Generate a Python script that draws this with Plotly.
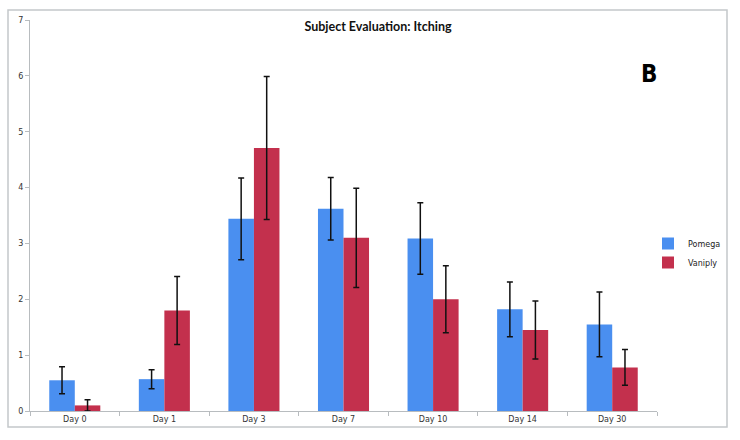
import plotly.graph_objects as go

categories = ["Day 0", "Day 1", "Day 3", "Day 7", "Day 10", "Day 14", "Day 30"]
pomega = [0.55, 0.57, 3.44, 3.62, 3.09, 1.82, 1.55]
pomega_err = [0.24, 0.17, 0.73, 0.56, 0.64, 0.49, 0.58]
vaniply = [0.10, 1.80, 4.71, 3.10, 2.00, 1.45, 0.78]
vaniply_err = [0.10, 0.61, 1.28, 0.89, 0.60, 0.52, 0.32]
y_ticks = [0, 1, 2, 3, 4, 5, 6, 7]

BLUE = "#4a8ff0"
RED = "#c3304d"
GRID = "#b8bcbf"

ML, MR, MT, MB = 30, 83, 20, 29
PW = 740 - ML - MR
PH = 440 - MT - MB

fig = go.Figure()
fig.add_trace(go.Bar(
    x=categories, y=pomega, name="Pomega", marker=dict(color=BLUE, line=dict(width=0)),
    error_y=dict(type="data", array=pomega_err, visible=True, color="#111111", thickness=1.5, width=3),
))
fig.add_trace(go.Bar(
    x=categories, y=vaniply, name="Vaniply", marker=dict(color=RED, line=dict(width=0)),
    error_y=dict(type="data", array=vaniply_err, visible=True, color="#111111", thickness=1.5, width=3),
))

fig.update_layout(
    width=740, height=440,
    margin=dict(l=ML, r=MR, t=MT, b=MB),
    paper_bgcolor="white", plot_bgcolor="white",
    barmode="group", bargap=0.43, bargroupgap=0,
    font=dict(family="DejaVu Sans", size=8, color="#333333"),
    title=dict(text="<b>Subject Evaluation: Itching</b>", x=378 / 740, xanchor="center",
               y=1 - 27 / 440, yanchor="middle",
               font=dict(family="Lato", size=12.5, color="#111111")),
    showlegend=True,
    legend=dict(x=(648 - ML) / PW, y=(411 - 229) / PH, xanchor="left", yanchor="top",
                font=dict(family="DejaVu Sans", size=8, color="#222222"),
                itemwidth=30, tracegroupgap=0, bgcolor="rgba(0,0,0,0)"),
    xaxis=dict(type="category", showline=True, linecolor=GRID, linewidth=1,
               ticks="outside", tickson="boundaries", ticklen=4, tickcolor=GRID,
               showgrid=False, automargin=False, tickfont=dict(size=8, color="#333333")),
    yaxis=dict(range=[0, 7], tickvals=y_ticks, showline=True, linecolor=GRID, linewidth=1,
               ticks="outside", ticklen=4, tickcolor=GRID, showgrid=False, zeroline=False,
               automargin=False, tickfont=dict(size=8, color="#333333")),
)

fig.add_shape(type="rect", xref="paper", yref="paper",
              x0=(8 - ML) / PW, x1=(727 - ML) / PW,
              y0=(411 - 427) / PH, y1=(411 - 10) / PH,
              line=dict(color="#c4c8ca", width=1.5), fillcolor="rgba(0,0,0,0)", layer="below")

fig.add_annotation(text="<b>B</b>", xref="paper", yref="paper",
                   x=(659 - ML) / PW, y=(411 - 58) / PH, showarrow=False,
                   font=dict(family="DejaVu Sans Condensed, Liberation Sans Narrow, DejaVu Sans",
                             size=24, color="#000000"))

fig.write_html("out.html", config={"displayModeBar": False},
               post_script="document.body.style.margin='0';")
